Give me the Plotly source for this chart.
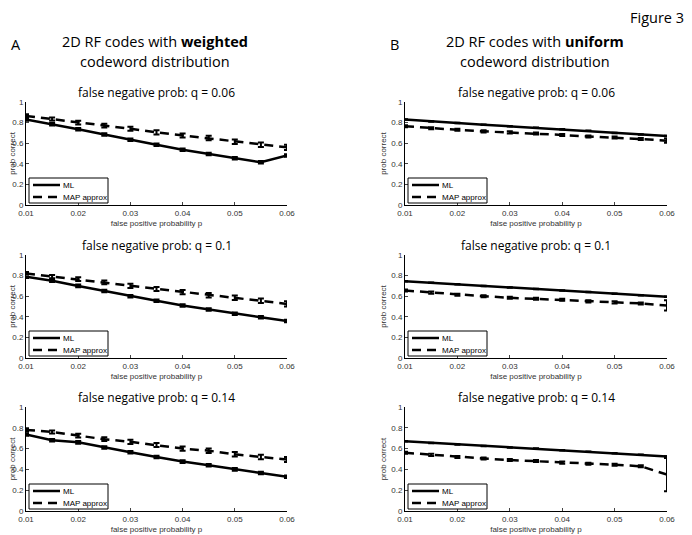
import plotly.graph_objects as go

p_vals = [0.01, 0.015, 0.02, 0.025, 0.03, 0.035, 0.04, 0.045, 0.05, 0.055, 0.06]

# weighted codeword distribution (panel A)
ml_w_006 = [0.83, 0.785, 0.735, 0.685, 0.633, 0.585, 0.537, 0.495, 0.453, 0.415, 0.48]
map_w_006 = [0.865, 0.835, 0.80, 0.77, 0.74, 0.705, 0.675, 0.65, 0.615, 0.585, 0.56]
ml_w_01 = [0.79, 0.75, 0.70, 0.65, 0.60, 0.555, 0.51, 0.47, 0.43, 0.395, 0.36]
map_w_01 = [0.82, 0.79, 0.765, 0.735, 0.70, 0.67, 0.64, 0.61, 0.585, 0.555, 0.525]
ml_w_014 = [0.735, 0.68, 0.66, 0.61, 0.565, 0.52, 0.475, 0.44, 0.40, 0.365, 0.33]
map_w_014 = [0.78, 0.76, 0.725, 0.69, 0.665, 0.635, 0.60, 0.58, 0.545, 0.52, 0.495]

# uniform codeword distribution (panel B)
ml_u_006 = [0.83, 0.81, 0.795, 0.78, 0.765, 0.75, 0.735, 0.72, 0.70, 0.685, 0.67]
map_u_006 = [0.765, 0.745, 0.73, 0.715, 0.705, 0.695, 0.68, 0.665, 0.655, 0.64, 0.625]
ml_u_01 = [0.745, 0.73, 0.715, 0.70, 0.685, 0.67, 0.655, 0.64, 0.625, 0.61, 0.595]
map_u_01 = [0.655, 0.635, 0.615, 0.60, 0.585, 0.575, 0.565, 0.55, 0.54, 0.53, 0.51]
ml_u_014 = [0.67, 0.655, 0.64, 0.625, 0.61, 0.60, 0.585, 0.57, 0.555, 0.54, 0.525]
map_u_014 = [0.56, 0.54, 0.52, 0.505, 0.49, 0.48, 0.465, 0.455, 0.445, 0.43, 0.35]

# error bar half-widths
err_ml_w = [0.01] * 11
err_map_w = [0.015, 0.015, 0.018, 0.018, 0.02, 0.02, 0.02, 0.022, 0.022, 0.022, 0.025]
err_ml_u = [0.0] * 11
err_map_u_006 = [0.01, 0.01, 0.01, 0.01, 0.01, 0.01, 0.01, 0.01, 0.01, 0.01, 0.02]
err_map_u_01 = [0.01, 0.01, 0.01, 0.01, 0.01, 0.01, 0.01, 0.01, 0.01, 0.01, 0.05]
err_map_u_014 = [0.01, 0.01, 0.01, 0.01, 0.01, 0.01, 0.01, 0.01, 0.01, 0.01, 0.16]

q_titles = ["false negative prob: q = 0.06", "false negative prob: q = 0.1",
            "false negative prob: q = 0.14"]
legend_names = ["ML", "MAP approx"]
y_ticks = [0, 0.2, 0.4, 0.6, 0.8, 1]
y_tick_text = ["0", "0.2", "0.4", "0.6", "0.8", "1"]
x_ticks = [0.01, 0.02, 0.03, 0.04, 0.05, 0.06]
x_tick_text = ["0.01", "0.02", "0.03", "0.04", "0.05", "0.06"]

panels = [
    (ml_w_006, map_w_006, err_ml_w, err_map_w),
    (ml_u_006, map_u_006, err_ml_u, err_map_u_006),
    (ml_w_01, map_w_01, err_ml_w, err_map_w),
    (ml_u_01, map_u_01, err_ml_u, err_map_u_01),
    (ml_w_014, map_w_014, err_ml_w, err_map_w),
    (ml_u_014, map_u_014, err_ml_u, err_map_u_014),
]

# the page body has an 8px margin, so the figure is drawn 8px in and shrunk to fit
OFF = 8
W, H = 692 - OFF, 535 - OFF
col_x = [(26, 287), (405, 667)]
row_y = [(102, 205), (255, 358), (407, 511)]

def px(x):
    return (x - OFF) / W

def py(y):
    return 1 - (y - OFF) / H

fig = go.Figure()
tick_font = dict(family="Liberation Sans, Arial", size=8, color="#333")
small_font = dict(family="Liberation Sans, Arial", size=8, color="black")
annots = []
shapes = []

for i, (ml, mp, eml, emp) in enumerate(panels):
    r, c = divmod(i, 2)
    n = i + 1
    xa = "x" if n == 1 else f"x{n}"
    ya = "y" if n == 1 else f"y{n}"
    x0, x1 = col_x[c]
    y0, y1 = row_y[r]

    fig.add_trace(go.Scatter(
        x=p_vals, y=ml, mode="lines", name="ML", showlegend=False,
        line=dict(color="black", width=2.5),
        error_y=dict(type="data", array=eml, visible=True, color="black", thickness=2.5, width=3),
        xaxis=xa, yaxis=ya))
    fig.add_trace(go.Scatter(
        x=p_vals, y=mp, mode="lines", name="MAP approx", showlegend=False,
        line=dict(color="black", width=2.5, dash="9px,6px"),
        error_y=dict(type="data", array=emp, visible=True, color="black", thickness=2, width=3),
        xaxis=xa, yaxis=ya))

    fig.layout[xa.replace("x", "xaxis")] = dict(
        domain=[px(x0), px(x1)], anchor=ya, range=[0.01, 0.06], automargin=False,
        tickvals=x_ticks, ticktext=x_tick_text, ticks="inside", ticklen=3,
        showline=True, linecolor="black", linewidth=1, showgrid=False, zeroline=False,
        tickfont=tick_font,
        title=dict(text="false positive probability p", font=tick_font, standoff=3))
    fig.layout[ya.replace("y", "yaxis")] = dict(
        domain=[py(y1), py(y0)], anchor=xa, range=[0, 1], automargin=False,
        tickvals=y_ticks, ticktext=y_tick_text, ticks="inside", ticklen=3,
        showline=True, linecolor="black", linewidth=1, showgrid=False, zeroline=False,
        tickfont=tick_font,
        title=dict(text="prob correct", font=tick_font, standoff=3))

    # legend box drawn in the lower-left corner of each panel
    lx0, lx1, ly0, ly1 = x0 + 3, x0 + 82, y1 - 27, y1 - 2
    shapes.append(dict(type="rect", xref="paper", yref="paper",
                       x0=px(lx0), x1=px(lx1), y0=py(ly1), y1=py(ly0),
                       line=dict(color="black", width=1), fillcolor="white", layer="above"))
    for k, dash in enumerate(["solid", "9px,6px"]):
        yy = ly0 + 7 + k * 12
        shapes.append(dict(type="line", xref="paper", yref="paper",
                           x0=px(lx0 + 4), x1=px(lx0 + 31), y0=py(yy), y1=py(yy),
                           line=dict(color="black", width=2.5, dash=dash), layer="above"))
        annots.append(dict(text=legend_names[k], x=px(lx0 + 32), y=py(yy),
                           xref="paper", yref="paper", showarrow=False,
                           xanchor="left", yanchor="middle", font=small_font))

    annots.append(dict(
        text=q_titles[r], x=px((x0 + x1) / 2), y=py(y0 - 10),
        xref="paper", yref="paper", showarrow=False, xanchor="center", yanchor="middle",
        font=dict(family="Open Sans", size=12, color="black")))

head_font = dict(family="Open Sans", size=14.5, color="black")
headers = [
    dict(text="Figure 3", x=px(686), y=py(18), xanchor="right"),
    dict(text="A", x=px(16), y=py(45), xanchor="center"),
    dict(text="B", x=px(394), y=py(45), xanchor="center"),
    dict(text="2D RF codes with <b>weighted</b>", x=px(155), y=py(42), xanchor="center"),
    dict(text="codeword distribution", x=px(155), y=py(62), xanchor="center"),
    dict(text="2D RF codes with <b>uniform</b>", x=px(535), y=py(42), xanchor="center"),
    dict(text="codeword distribution", x=px(535), y=py(62), xanchor="center"),
]
for a in headers:
    a.update(xref="paper", yref="paper", showarrow=False, yanchor="middle", font=head_font)
fig.layout.annotations = annots + headers
fig.layout.shapes = shapes

fig.update_layout(
    width=W, height=H, margin=dict(l=0, r=0, t=0, b=0),
    paper_bgcolor="white", plot_bgcolor="white", showlegend=False)

fig.write_html("out.html")
